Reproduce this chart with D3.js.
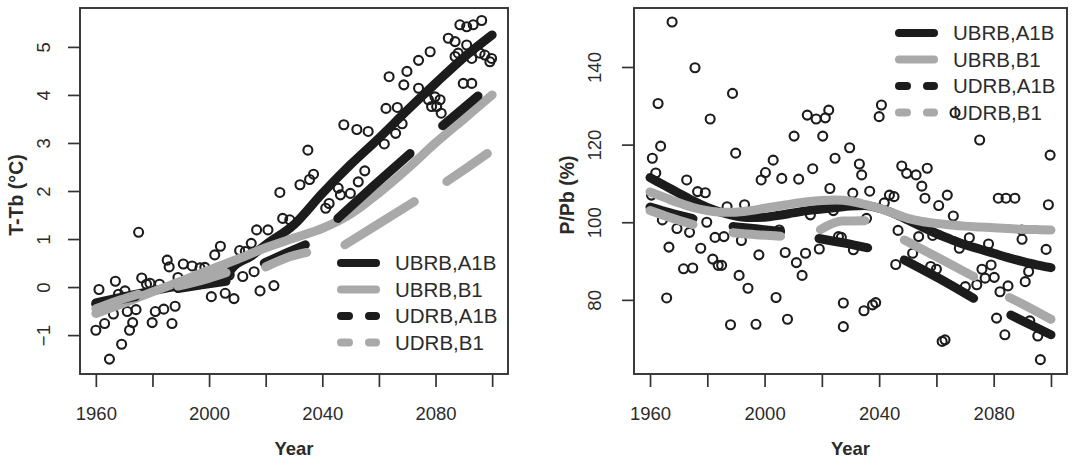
<!DOCTYPE html>
<html>
<head>
  <meta charset="utf-8">
  <title>Temperature and precipitation change</title>
  <script src="https://d3js.org/d3.v7.min.js"></script>
  <style>
  body {
    margin: 0;
    background: #fff;
  }

  svg {
    display: block;
    background: #fff;
    font-family: "Liberation Sans", Arial, sans-serif;
  }

  .tick text {
    fill: #2b2b2b;
  }

  .tick line {
    stroke: #333;
    stroke-width: 1.7;
  }
  </style>
</head>
<body>
  <script>

    // ---- left panel: T - Tb (°C) ----
    var tPtYear = [1961.1, 1960, 1963.1, 1964.8, 1966.9, 1968, 1970.3, 1966.2, 1969.1, 1971.1,
      1971.9, 1973, 1974.2, 1975.1, 1976.2, 1977.9, 1979.1, 1979.9, 1981, 1982.5,
      1984, 1985.2, 1985.9, 1986.9, 1988, 1989, 1990.9, 1994, 1996.8, 1998.5,
      2000.8, 2002, 2004, 2005.7, 2007.1, 2008.8, 2010.8, 2011.9, 2012.8, 2014.9,
      2015.9, 2016.8, 2018, 2020.8, 2022.9, 2025, 2026, 2028.5, 2032.1, 2034.9,
      2035.5, 2036.9, 2041.2, 2042.4, 2045.6, 2046.4, 2047.6, 2049.9, 2052.2, 2052.7,
      2055, 2056.2, 2061.9, 2062.5, 2063.6, 2065.9, 2066.5, 2068.2, 2068.8, 2069.9,
      2074, 2074, 2078.1, 2077.5, 2078.6, 2079.8, 2080.4, 2081.6, 2082, 2084.5,
      2086.9, 2086.9, 2088, 2088.6, 2089.8, 2091, 2091, 2092.8, 2092.8, 2093.3,
      2095.7, 2096.3, 2097.4, 2099.2, 2099.8];
    var tPtVal = [-0.05, -0.9, -0.76, -1.5, 0.12, -0.15, -0.08, -0.56, -1.19, -0.51,
      -0.9, -0.74, -0.47, 1.14, 0.19, 0.06, 0.08, -0.74, -0.51, 0.06,
      -0.46, 0.56, 0.42, -0.76, -0.4, 0.2, 0.48, 0.44, 0.4, 0.41,
      -0.2, 0.67, 0.85, -0.13, 0.25, -0.24, 0.76, 0.22, 0.74, 0.91,
      0.32, 1.19, -0.08, 1.19, 0.03, 1.97, 1.43, 1.4, 2.13, 2.85,
      2.24, 2.35, 1.64, 1.74, 2.06, 1.92, 3.38, 1.95, 3.28, 2.19,
      2.42, 3.24, 2.98, 3.72, 4.38, 3.2, 3.74, 3.4, 4.21, 4.49,
      4.72, 4.14, 4.9, 3.9, 3.76, 3.96, 3.76, 3.9, 3.62, 5.18,
      5.11, 4.8, 4.87, 5.46, 4.24, 5.42, 5.04, 4.76, 4.24, 5.46,
      4.87, 5.55, 4.83, 4.69, 4.76];

    var tUbA1bYear = [1960, 1970, 1980, 1990, 2000, 2006, 2008, 2015, 2020, 2030, 2040, 2050, 2060, 2070, 2080, 2090, 2100];
    var tUbA1bVal = [-0.33, -0.2, -0.08, 0.03, 0.12, 0.2, 0.38, 0.65, 0.88, 1.3, 1.95, 2.55, 3.1, 3.68, 4.24, 4.78, 5.25];
    var tUbB1Year = [1960, 1970, 1980, 1990, 2000, 2010, 2020, 2030, 2040, 2050, 2060, 2070, 2080, 2090, 2100];
    var tUbB1Val = [-0.55, -0.33, -0.1, 0.12, 0.35, 0.58, 0.82, 1.02, 1.22, 1.52, 1.96, 2.46, 3.0, 3.5, 4.0];
    // dashed series: null marks the gaps between dashes
    var tUdA1bYear = [1960, 1967, 1974, null, 1989, 1998, 2006, null, 2019.5, 2027, 2034, null, 2045.5, 2058, 2071, null, 2082.5, 2089, 2095];
    var tUdA1bVal = [-0.36, -0.28, -0.2, null, -0.03, 0.05, 0.12, null, 0.5, 0.7, 0.88, null, 1.43, 2.1, 2.78, null, 3.36, 3.68, 3.98];
    var tUdB1Year = [1960, 1967, 1975, null, 1989, 1998, 2006, null, 2020, 2027, 2034.5, null, 2048, 2060, 2072.5, null, 2084, 2091, 2098.3];
    var tUdB1Val = [-0.45, -0.3, -0.15, null, 0.02, 0.15, 0.3, null, 0.42, 0.6, 0.72, null, 0.88, 1.32, 1.78, null, 2.2, 2.48, 2.78];

    // ---- right panel: P / Pb (%) ----
    var pPtYear = [1960.5, 1960.8, 1962, 1962.8, 1963.7, 1964.3, 1965.8, 1966.6, 1967.7, 1969.4,
      1971.7, 1972.8, 1973.8, 1974.9, 1975.7, 1976.6, 1977.7, 1979.3, 1979.8, 1981,
      1981.9, 1982.7, 1983.8, 1985, 1985.8, 1986.9, 1988.1, 1988.8, 1989.9, 1991.1,
      1991.9, 1993, 1994.2, 1997, 1998, 1998.8, 2000.3, 2003, 2004, 2005.1,
      2006, 2007.2, 2008, 2010.3, 2011.1, 2011.9, 2013.1, 2014.3, 2014.9, 2016,
      2016.8, 2018, 2019.1, 2020.3, 2021.2, 2022.4, 2022.8, 2024, 2024.6, 2025.8,
      2026.8, 2027.5, 2027.5, 2029.7, 2030.8, 2031, 2033.1, 2033.9, 2034.7, 2035.6,
      2036.7, 2037.7, 2038.8, 2040, 2040.8, 2041.8, 2043.6, 2045.2, 2045.8, 2046.6,
      2047.9, 2049.6, 2051.7, 2052.9, 2053.8, 2054.9, 2056, 2056.8, 2058, 2058.7,
      2060, 2060.8, 2062, 2063, 2063.8, 2065.9, 2066.5, 2068, 2070.1, 2071.5,
      2074.1, 2075.1, 2075.9, 2077, 2078.2, 2079.1, 2080.2, 2081, 2081.6, 2082.2,
      2083.9, 2084.3, 2085, 2087.4, 2089.8, 2089.9, 2091, 2092.2, 2092.6, 2095.4,
      2096.3, 2098.3, 2099.1, 2099.7];
    var pPtVal = [107, 116.5, 112.7, 130.6, 119.6, 100.6, 80.5, 93.6, 151.6, 98.4,
      88, 110.9, 97.4, 88.2, 139.8, 107.9, 93.3, 107.6, 100, 126.6,
      90.5, 96.1, 88.9, 88.9, 96.3, 104, 73.6, 133.2, 117.8, 86.3,
      95.3, 104.5, 83, 73.7, 91.6, 110.9, 112.8, 116, 80.6, 98,
      111.3, 92.2, 75, 122.2, 89.6, 111.1, 86.3, 92, 127.6, 101.9,
      113.8, 126.6, 93.1, 122.2, 126.9, 128.9, 108.7, 103, 116.5, 96.3,
      96.1, 79.2, 73.1, 119.2, 107.5, 92.9, 115, 112.2, 77.2, 101,
      108, 78.7, 79.3, 127.2, 130.2, 105, 107, 106.6, 89.1, 97.9,
      114.5, 112.6, 92, 112.2, 96.3, 109.3, 106.2, 113.9, 88.6, 96.6,
      87.9, 104.3, 69.3, 69.7, 107, 101.6, 128.2, 93.3, 83.4, 96,
      83.9, 121.2, 87.9, 85.6, 94.4, 89, 85.8, 75.3, 106.2, 82.1,
      71, 106.2, 83.6, 106.2, 98, 95.6, 84.7, 87.3, 74.6, 70.7,
      64.6, 93, 104.5, 117.3];

    var pUbYear = [1960, 1965, 1970, 1975, 1980, 1985, 1990, 1995, 2000, 2005, 2010, 2015, 2020, 2025, 2030,
      2035, 2040, 2045, 2050, 2055, 2060, 2065, 2070, 2075, 2080, 2085, 2090, 2095, 2100];
    var pUbA1bVal = [111.5, 109.5, 107.5, 105.5, 103.8, 102.5, 101.6, 101.2, 101.3, 101.8, 102.4, 103, 103.4, 103.8, 104.2,
      104.3, 103.6, 102.3, 100.6, 98.8, 97.1, 95.6, 94.2, 93.1, 92, 90.9, 89.9, 89, 88.3];
    var pUbB1Val = [107.8, 106.4, 105, 103.8, 103, 102.6, 102.6, 103, 103.6, 104.2, 104.8, 105.3, 105.6, 105.7, 105.4,
      104.6, 103.6, 102.3, 101, 100.2, 99.7, 99.3, 99, 98.8, 98.6, 98.4, 98.2, 98.1, 98];
    var pUdA1bYear = [1960, 1967, 1975, null, 1989, 1997, 2005.6, null, 2019, 2028, 2036, null, 2048.8, 2061, 2073, null, 2086, 2093, 2100];
    var pUdA1bVal = [103.9, 102.4, 100.9, null, 98.9, 98.3, 97.6, null, 95.8, 94.6, 93.4, null, 90.3, 85.5, 80.4, null, 76.1, 73.5, 71];
    var pUdB1Year = [1960, 1967, 1975, null, 1989, 1997, 2005.6, null, 2019.5, 2027, 2035, null, 2048.8, 2061, 2073, null, 2085.5, 2093, 2100];
    var pUdB1Val = [103, 101.2, 99.4, null, 97.3, 96.8, 96.4, null, 98.1, 100.3, 100.4, null, 95.4, 90.7, 86, null, 80.6, 77.8, 75];

    var xTicks = [1960, 1980, 2000, 2020, 2040, 2060, 2080, 2100];
    var xLabels = [1960, 2000, 2040, 2080];
    var tTicks = [-1, 0, 1, 2, 3, 4, 5];
    var pTicks = [80, 100, 120, 140];
    var legendLabels = ["UBRB,A1B", "UBRB,B1", "UDRB,A1B", "UDRB,B1"];

    var black = "#1c1c1c";
    var grey = "#a9a9a9";
    var lineWidth = 9;

    var width = 1073;
    var height = 460;

    var svg = d3.select("body")
      .append("svg")
      .attr("width", width)
      .attr("height", height);

    function zip(xs, ys) {
      return xs.map(function(d, i) { return [d, ys[i]]; });
    }

    function drawPanel(opt) {
      var x = d3.scaleLinear()
        .domain([1954.4, 2105.6])
        .range([opt.left, opt.right]);
      var y = d3.scaleLinear()
        .domain(opt.yDomain)
        .range([374, 8]);

      var g = svg.append("g");

      // points
      g.append("g").selectAll("circle")
        .data(zip(opt.ptYear, opt.ptVal))
        .enter()
        .append("circle")
        .attr("cx", function(d) { return x(d[0]); })
        .attr("cy", function(d) { return y(d[1]); })
        .attr("r", 4.5)
        .attr("fill", "none")
        .attr("stroke", black)
        .attr("stroke-width", 2.1);

      var line = d3.line()
        .defined(function(d) { return d[0] !== null; })
        .x(function(d) { return x(d[0]); })
        .y(function(d) { return y(d[1]); })
        .curve(d3.curveMonotoneX);

      opt.series.forEach(function(s) {
        g.append("path")
          .datum(zip(s.year, s.val))
          .attr("d", line)
          .attr("fill", "none")
          .attr("stroke", s.color)
          .attr("stroke-width", lineWidth)
          .attr("stroke-linecap", "round")
          .attr("stroke-linejoin", "round");
      });

      // box
      g.append("rect")
        .attr("x", opt.left)
        .attr("y", 8)
        .attr("width", opt.right - opt.left)
        .attr("height", 366)
        .attr("fill", "none")
        .attr("stroke", "#333")
        .attr("stroke-width", 1.9);

      // x axis
      var xAxis = g.append("g")
        .attr("transform", "translate(0,374)")
        .call(d3.axisBottom(x)
          .tickValues(xTicks)
          .tickSize(13)
          .tickPadding(20)
          .tickFormat(function(d) { return xLabels.indexOf(d) >= 0 ? d : ""; }));
      xAxis.select(".domain").remove();
      xAxis.selectAll("text")
        .attr("font-size", 18.5)
        .attr("font-family", "Liberation Sans, Arial, sans-serif");

      // y axis, labels turned like R does
      var yAxis = g.append("g")
        .attr("transform", "translate(" + opt.left + ",0)")
        .call(d3.axisLeft(y)
          .tickValues(opt.yTicks)
          .tickSize(12));
      yAxis.select(".domain").remove();
      yAxis.selectAll("text")
        .attr("transform", "rotate(-90)")
        .attr("x", 0)
        .attr("y", -opt.labelOffset)
        .attr("dy", "0.35em")
        .attr("text-anchor", "middle")
        .attr("font-size", 18.5)
        .attr("font-family", "Liberation Sans, Arial, sans-serif");

      g.append("text")
        .attr("x", (opt.left + opt.right) / 2)
        .attr("y", 455)
        .attr("text-anchor", "middle")
        .attr("font-size", 18.5)
        .attr("font-weight", "bold")
        .attr("fill", "#2b2b2b")
        .text("Year");

      g.append("text")
        .attr("transform", "translate(" + opt.titleX + ",195) rotate(-90)")
        .attr("text-anchor", "middle")
        .attr("font-size", 19.5)
        .attr("font-weight", "bold")
        .attr("fill", "#2b2b2b")
        .text(opt.title);

      // legend
      var leg = g.append("g");
      opt.series.forEach(function(s, i) {
        var ly = opt.legendY + i * 26.5;
        leg.append("line")
          .attr("x1", opt.legendX + 4)
          .attr("x2", opt.legendX + 39)
          .attr("y1", ly)
          .attr("y2", ly)
          .attr("stroke", s.color)
          .attr("stroke-width", lineWidth - 1)
          .attr("stroke-linecap", "round")
          .attr("stroke-dasharray", s.dashed ? "8,20" : null);
        leg.append("text")
          .attr("x", opt.legendX + 58)
          .attr("y", ly)
          .attr("dy", "0.36em")
          .attr("font-size", 20.5)
          .attr("fill", "#2b2b2b")
          .text(legendLabels[i]);
      });
    }

    drawPanel({
      left: 80,
      right: 508,
      yDomain: [-1.81, 5.81],
      yTicks: tTicks,
      labelOffset: 36,
      titleX: 23,
      title: "T-Tb (°C)",
      ptYear: tPtYear,
      ptVal: tPtVal,
      legendX: 337,
      legendY: 263,
      series: [
        { year: tUbA1bYear, val: tUbA1bVal, color: black, dashed: false },
        { year: tUbB1Year, val: tUbB1Val, color: grey, dashed: false },
        { year: tUdA1bYear, val: tUdA1bVal, color: black, dashed: true },
        { year: tUdB1Year, val: tUdB1Val, color: grey, dashed: true }
      ]
    });

    drawPanel({
      left: 634,
      right: 1067,
      yDomain: [60.9, 155.2],
      yTicks: pTicks,
      labelOffset: 39,
      titleX: 574,
      title: "P/Pb (%)",
      ptYear: pPtYear,
      ptVal: pPtVal,
      legendX: 895,
      legendY: 33,
      series: [
        { year: pUbYear, val: pUbA1bVal, color: black, dashed: false },
        { year: pUbYear, val: pUbB1Val, color: grey, dashed: false },
        { year: pUdA1bYear, val: pUdA1bVal, color: black, dashed: true },
        { year: pUdB1Year, val: pUdB1Val, color: grey, dashed: true }
      ]
    });
  </script>
</body>
</html>
